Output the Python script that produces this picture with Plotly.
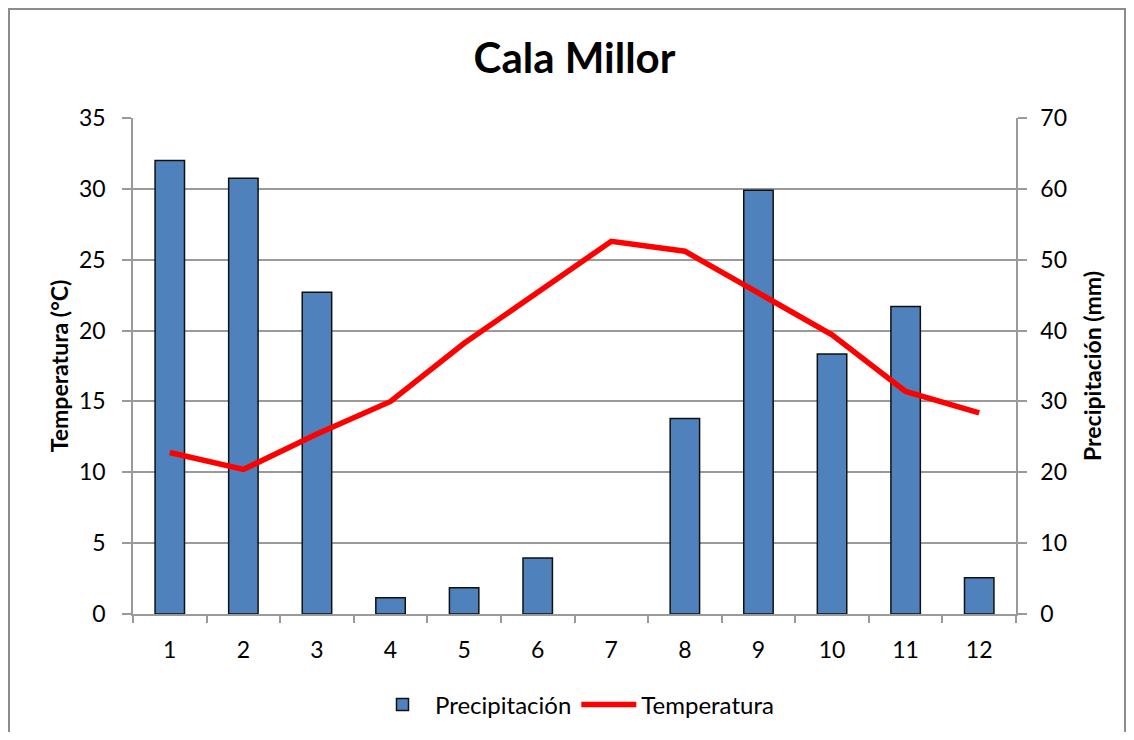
import plotly.graph_objects as go

months = ["1", "2", "3", "4", "5", "6", "7", "8", "9", "10", "11", "12"]
precipitacion = [64.0, 61.5, 45.4, 2.3, 3.7, 7.9, 0.0, 27.6, 59.8, 36.7, 43.4, 5.1]
temperatura = [11.4, 10.2, 12.7, 15.0, 19.1, 22.7, 26.3, 25.6, 22.7, 19.7, 15.7, 14.2]

FONT = "Lato, 'Open Sans', sans-serif"
OFF = 8  # page body margin
W, H = 1134 - 2 * OFF, 740 - 2 * OFF
# plot area in page pixels
PL, PR, PT, PB = 133, 1016, 118, 614
ML, MR, MT, MB = PL - OFF, W - (PR - OFF), PT - OFF, H - (PB - OFF)
PW, PH = PR - PL, PB - PT

def px_x(p):
    return (p - PL) / PW

def px_y(p):
    return (PB - p) / PH

GRID = "#9a9a9a"
bar_outline = [1.5 if v > 0 else 0 for v in precipitacion]

fig = go.Figure()
fig.add_trace(go.Bar(
    x=months, y=precipitacion, name="Precipitación",
    marker=dict(color="#4F81BD", line=dict(color="#111111", width=bar_outline)),
    yaxis="y",
))
fig.add_trace(go.Scatter(
    x=months, y=temperatura, name="Temperatura", mode="lines",
    line=dict(color="#FF0000", width=5.5),
    yaxis="y2",
))

fig.update_layout(
    width=W, height=H,
    margin=dict(l=ML, r=MR, t=MT, b=MB, autoexpand=False),
    paper_bgcolor="white", plot_bgcolor="white",
    font=dict(family=FONT, size=23, color="#000000"),
    title=dict(text="<b>Cala Millor</b>", x=0.5, xref="paper", xanchor="center",
               y=1 - (58 - OFF) / H, yanchor="middle", font=dict(size=42, family=FONT)),
    bargap=0.6,
    showlegend=True,
    legend=dict(orientation="h", x=0.5, xanchor="center",
                yref="container", y=1 - (705 - OFF) / H, yanchor="middle",
                font=dict(size=24), itemwidth=55),
    xaxis=dict(type="category", tickson="boundaries", ticks="outside", ticklen=7,
               tickcolor=GRID, tickwidth=1.5, showline=True, linecolor=GRID,
               linewidth=1.5, showgrid=False, tickfont=dict(size=23), ticklabelstandoff=15,
               automargin=False),
    yaxis=dict(side="right", range=[0, 70], dtick=10, ticks="outside", ticklen=9,
               tickcolor=GRID, tickwidth=1.5, showline=True, linecolor=GRID,
               linewidth=1.5, showgrid=True, gridcolor=GRID, gridwidth=1.5,
               zeroline=False, tickfont=dict(size=23), ticklabelstandoff=9, automargin=False,
               title=dict(text="<b>Precipitación (mm)</b>", font=dict(size=23), standoff=19)),
    yaxis2=dict(side="left", overlaying="y", range=[0, 35], dtick=5, ticks="outside", ticklen=9,
                tickcolor=GRID, tickwidth=1.5, showline=True, linecolor=GRID,
                linewidth=1.5, showgrid=False, zeroline=False, tickfont=dict(size=23),
                ticklabelstandoff=12, automargin=False,
                title=dict(text="<b>Temperatura (°C)</b>", font=dict(size=23), standoff=4)),
    shapes=[dict(type="rect", xref="paper", yref="paper",
                 x0=px_x(OFF + 1), x1=px_x(1134 - OFF - 1), y0=px_y(740 - OFF + 5), y1=px_y(OFF + 1),
                 line=dict(color="#8c8c8c", width=2), fillcolor="rgba(0,0,0,0)", layer="below")],
)

fig.write_html("out.html")
